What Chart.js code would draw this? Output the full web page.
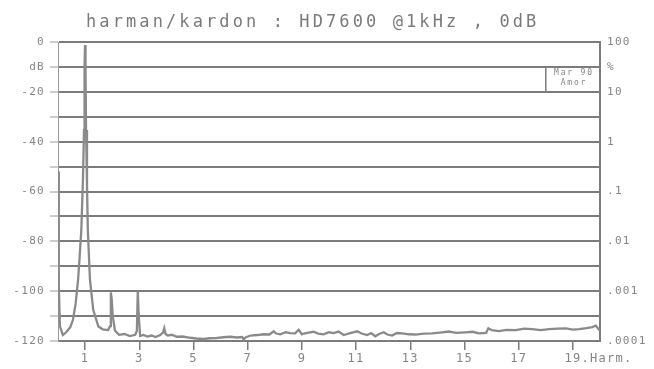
<!DOCTYPE html>
<html>
<head>
<meta charset="utf-8">
<script src="https://cdn.jsdelivr.net/npm/chart.js@4"></script>
<style>
  html, body { margin:0; padding:0; background:#fff; }
  canvas { display:block; }
</style>
</head>
<body>
<canvas id="fft" width="654" height="369"></canvas>
<script>
/* ── DATOS ── */
const TITLE = 'harman/kardon : HD7600 @1kHz , 0dB';
const STAMP = ['Mar 90', 'Amor'];

// trace: harmonic number -> level in dB
const HARMONIC = [
  0.00, 0.03, 0.07, 0.18, 0.30, 0.45, 0.55, 0.65, 0.74, 0.80,
  0.86, 0.92, 0.96, 0.98, 0.998, 1.015, 1.035, 1.07, 1.10, 1.18,
  1.30, 1.49, 1.65, 1.85, 1.92, 1.95, 1.98, 2.02, 2.10, 2.25,
  2.45, 2.65, 2.85, 2.91, 2.945, 2.97, 3.03, 3.15, 3.30, 3.45,
  3.60, 3.77, 3.88, 3.92, 3.97, 4.05, 4.20, 4.38, 4.60, 4.88,
  5.10, 5.37, 5.60, 5.86, 6.10, 6.36, 6.60, 6.80, 6.85, 6.92,
  7.10, 7.35, 7.59, 7.80, 7.96, 8.05, 8.20, 8.40, 8.57, 8.75,
  8.88, 9.00, 9.07, 9.25, 9.43, 9.60, 9.80, 10.00, 10.17, 10.35,
  10.54, 10.75, 11.04, 11.20, 11.41, 11.55, 11.71, 11.85, 12.02, 12.15,
  12.33, 12.50, 12.70, 12.95, 13.19, 13.50, 13.81, 14.10, 14.42, 14.70,
  15.04, 15.30, 15.53, 15.80, 15.88, 16.00, 16.27, 16.55, 16.89, 17.20,
  17.50, 17.80, 18.12, 18.45, 18.74, 19.00, 19.23, 19.50, 19.72, 19.84,
  19.97, 20.00
];
const LEVEL_DB = [
  -52, -98, -114, -117.6, -116.5, -114.5, -111.6, -105, -95.5, -86,
  -75.4, -55.4, -35.3, -10, -1.2, -10, -35.3, -57, -75.4, -95.5,
  -107.5, -114.2, -115.3, -115.6, -114, -100.5, -103, -110, -115.8, -117.5,
  -117.2, -118, -117.5, -116, -99.8, -108, -118, -117.6, -118.2, -117.8,
  -118.4, -117.6, -116.5, -114.9, -117.2, -117.8, -117.5, -118.3, -118.2, -118.7,
  -119.0, -119.2, -118.9, -118.8, -118.5, -118.3, -118.6, -118.4, -119.4, -118.6,
  -117.8, -117.6, -117.3, -117.4, -116.1, -117.0, -117.3, -116.5, -116.8, -116.9,
  -115.5, -117.3, -117.0, -116.6, -116.3, -117.0, -117.3, -116.5, -116.8, -116.2,
  -117.6, -116.9, -116.1, -117.0, -117.6, -116.8, -118.1, -117.2, -116.5, -117.4,
  -117.8, -116.8, -116.9, -117.3, -117.4, -117.0, -116.9, -116.6, -116.2, -116.7,
  -116.5, -116.3, -116.9, -116.7, -114.9, -115.6, -116.0, -115.5, -115.6, -115.0,
  -115.2, -115.6, -115.2, -115.0, -114.9, -115.4, -115.2, -114.8, -114.4, -113.8,
  -115.5, -115.5
];

// ejes
const DB_TICKS     = [0, -10, -20, -30, -40, -50, -60, -70, -80, -90, -100, -110, -120];
const LEFT_LABELS  = ['0', 'dB', '-20', '', '-40', '', '-60', '', '-80', '', '-100', '', '-120'];
const RIGHT_LABELS = ['100', '%', '10', '', '1', '', '.1', '', '.01', '', '.001', '', '.0001'];
const HARM_TICKS   = [1, 3, 5, 7, 9, 11, 13, 15, 17, 19];
const HARM_LABELS  = ['1', '3', '5', '7', '9', '11', '13', '15', '17', '      19.Harm.'];

const GRIS   = '#7c7c7c';
const TEXTO  = '#858585';
const MONO   = "'DejaVu Sans Mono', monospace";

/* ── PLUGIN: texto de plotter ── */
const plotter = {
  id: 'plotter',
  beforeDraw(chart) {
    chart.ctx.letterSpacing = '1.3px';
  },
  afterDraw(chart) {
    const { ctx, scales: { x, y } } = chart;
    ctx.save();

    // recuadro de fecha
    const bx = x.getPixelForValue(18.0);
    const top = y.getPixelForValue(-10), bot = y.getPixelForValue(-20);
    ctx.strokeStyle = GRIS;
    ctx.lineWidth = 1.5;
    ctx.beginPath(); ctx.moveTo(bx, top); ctx.lineTo(bx, bot); ctx.stroke();
    ctx.fillStyle = TEXTO;
    ctx.font = `8px ${MONO}`;
    ctx.letterSpacing = '1.8px';
    ctx.textAlign = 'center';
    ctx.textBaseline = 'middle';
    const cx = (bx + chart.chartArea.right) / 2;
    ctx.fillText(STAMP[0], cx + 1, top + 6);
    ctx.fillText(STAMP[1], cx + 1, top + 16);

    // título
    ctx.font = `17px ${MONO}`;
    ctx.letterSpacing = '3.1px';
    ctx.fillStyle = '#7a7a7a';
    ctx.textAlign = 'left';
    ctx.textBaseline = 'alphabetic';
    ctx.fillText(TITLE, 86, 27);

    ctx.restore();
    ctx.letterSpacing = '0px';
  }
};

/* ── GRÁFICO ── */
const ctx = document.getElementById('fft').getContext('2d');
new Chart(ctx, {
  type: 'line',
  data: {
    datasets: [{
      data: HARMONIC.map((h, i) => ({ x: h, y: LEVEL_DB[i] })),
      borderColor: '#8a8a8a',
      borderWidth: 2.3,
      pointRadius: 0,
      tension: 0,
      yAxisID: 'y'
    }]
  },
  options: {
    responsive: false,
    animation: false,
    layout: { padding: { top: 42, left: 0, right: 0, bottom: 0 } },
    plugins: { legend: { display: false }, title: { display: false }, tooltip: { enabled: false } },
    scales: {
      x: {
        type: 'linear', min: 0, max: 20,
        afterBuildTicks: ax => { ax.ticks = HARM_TICKS.map(v => ({ value: v })); },
        afterFit: ax => { ax.height = 28; },
        border: { display: false },
        grid: { drawOnChartArea: false, drawTicks: true, tickLength: 9, color: GRIS, lineWidth: 1.5 },
        ticks: {
          autoSkip: false, maxRotation: 0, minRotation: 0, padding: 2,
          color: TEXTO, font: { family: MONO, size: 12 },
          callback: (v, i) => HARM_LABELS[i]
        }
      },
      y: {
        type: 'linear', position: 'left', min: -120, max: 0,
        afterBuildTicks: ax => { ax.ticks = DB_TICKS.map(v => ({ value: v })); },
        afterFit: ax => { ax.width = 58; },
        border: { display: true, color: '#9a9a9a', width: 1 },
        grid: { display: true, drawOnChartArea: true, color: GRIS, lineWidth: 2,
                tickLength: 8, tickColor: '#9a9a9a', tickWidth: 1 },
        ticks: {
          padding: 5, color: TEXTO, font: { family: MONO, size: 11 },
          callback: (v, i) => LEFT_LABELS[i]
        }
      },
      y2: {
        type: 'linear', position: 'right', min: -120, max: 0,
        afterBuildTicks: ax => { ax.ticks = DB_TICKS.map(v => ({ value: v })); },
        afterFit: ax => { ax.width = 54; },
        border: { display: true, color: GRIS, width: 2 },
        grid: { drawOnChartArea: false, drawTicks: false },
        ticks: {
          padding: 7, color: TEXTO, font: { family: MONO, size: 11 },
          callback: (v, i) => RIGHT_LABELS[i]
        }
      }
    }
  },
  plugins: [plotter]
});
</script>
</body>
</html>
